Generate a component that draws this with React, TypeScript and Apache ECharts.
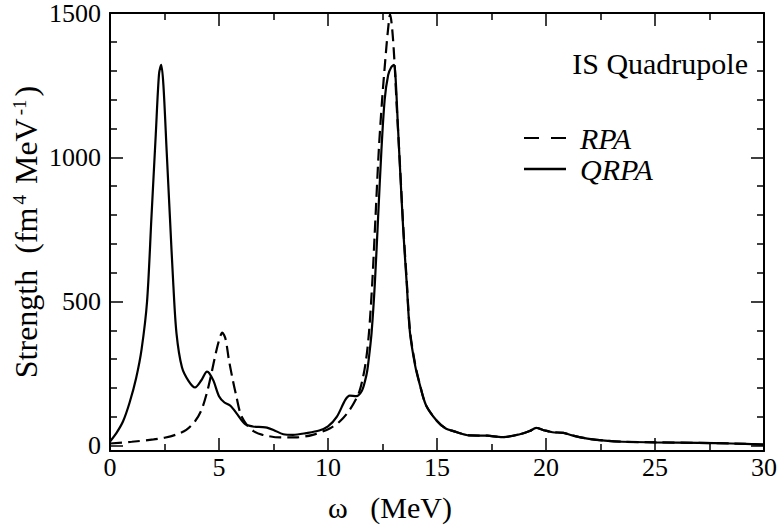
import React, { useEffect, useRef } from "react";
import * as echarts from "echarts";

// ---- data ----
const qrpaX = [0, 0.3, 0.6, 0.9, 1.2, 1.45, 1.7, 1.9, 2.1, 2.25, 2.35, 2.45, 2.6, 2.75, 2.9, 3.05, 3.3, 3.6, 3.9, 4.2, 4.45, 4.55, 4.75, 5.0, 5.25, 5.5, 5.65, 5.85, 6.2, 6.55, 7.0, 7.2, 7.5, 7.95, 8.4, 9.0, 9.6, 10.0, 10.4, 10.8, 11.0, 11.3, 11.55, 11.7, 11.8, 11.9, 12.0, 12.15, 12.3, 12.45, 12.6, 12.76, 12.9, 13.03, 13.1, 13.2, 13.3, 13.46, 13.61, 13.76, 14.0, 14.2];
const qrpaY = [15, 45, 85, 150, 235, 335, 500, 790, 1080, 1290, 1320, 1250, 1020, 790, 565, 390, 272, 225, 202, 228, 257, 252, 225, 172, 150, 140, 128, 108, 75, 67, 65, 63, 55, 40, 38, 44, 53, 67, 100, 160, 174, 172, 190, 225, 260, 320, 392, 564, 794, 1024, 1200, 1285, 1312, 1320, 1275, 1120, 967, 737, 564, 392, 277, 215];

const rpaX = [0, 1, 2, 2.5, 3, 3.5, 3.9, 4.2, 4.45, 4.65, 4.85, 5.0, 5.15, 5.3, 5.45, 5.6, 5.8, 6.0, 6.3, 6.6, 7.0, 7.8, 8.5, 9.3, 10.1, 10.55, 11.0, 11.4, 11.6, 11.75, 11.88, 12.03, 12.18, 12.33, 12.48, 12.62, 12.75, 12.85, 12.95, 13.05, 13.15, 13.3, 13.46, 13.61, 13.76, 14.0, 14.2];
const rpaY = [8, 14, 22, 28, 38, 55, 85, 125, 185, 250, 320, 365, 392, 370, 300, 240, 170, 108, 70, 50, 38, 29, 29, 38, 61, 85, 125, 180, 235, 300, 392, 564, 794, 1024, 1197, 1330, 1440, 1495, 1440, 1330, 1180, 975, 750, 575, 400, 282, 217];

// common high-energy tail (both curves coincide there)
const tailX = [14.5, 15.0, 15.4, 15.75, 16.5, 17.3, 18.0, 18.8, 19.25, 19.55, 19.95, 20.3, 20.8, 21.2, 21.9, 22.7, 23.5, 25, 27, 28.5, 30];
const tailY = [140, 86, 60, 51, 36, 35, 30, 40, 51, 62, 53, 47, 45, 36, 25, 18, 14, 12, 10, 8, 4];

const yMajorTicks = [0, 500, 1000, 1500];
const yMinorTicks = [100, 200, 300, 400, 600, 700, 800, 900, 1100, 1200, 1300, 1400];

const FONT = "Liberation Serif";

function pairs(xs: number[], ys: number[]) {
  return xs.map((x, i) => [x, ys[i]]);
}

export default function App() {
  const ref = useRef<HTMLDivElement>(null);
  useEffect(() => {
    if (!ref.current) return;
    const chart = echarts.init(ref.current, null, { renderer: "svg" });
    const black = "#000";
    const yMin = -18;
    const yMax = 1500;
    const xAxisBase = {
      type: "value",
      min: 0,
      max: 30,
      interval: 5,
      axisLine: { show: true, onZero: false, lineStyle: { color: black, width: 2 } },
      axisTick: { show: true, inside: true, length: 13, lineStyle: { color: black, width: 1.5 } },
      minorTick: { show: true, splitNumber: 2, length: 7, lineStyle: { color: black, width: 1.5 } },
      splitLine: { show: false },
      minorSplitLine: { show: false },
    };
    const yAxisBase = (position: string, major: boolean, labels: boolean) => ({
      type: "value",
      position,
      min: yMin,
      max: yMax,
      axisLine: { show: major, onZero: false, lineStyle: { color: black, width: 2 } },
      axisTick: {
        show: true,
        inside: true,
        length: major ? 13 : 7,
        customValues: major ? yMajorTicks : yMinorTicks,
        lineStyle: { color: black, width: 1.5 },
      },
      axisLabel: labels
        ? {
            show: true,
            customValues: yMajorTicks,
            color: black,
            fontSize: 26,
            fontFamily: FONT,
            margin: 9,
            formatter: (v: number) => String(v),
          }
        : { show: false },
      splitLine: { show: false },
    });

    chart.setOption({
      animation: false,
      backgroundColor: "#fff",
      textStyle: { fontFamily: FONT },
      grid: { left: 110, right: 17, top: 12, bottom: 75, containLabel: false },
      xAxis: [
        {
          ...xAxisBase,
          position: "bottom",
          axisLabel: {
            color: black,
            fontSize: 26,
            fontFamily: FONT,
            margin: 3,
            formatter: (v: number) => String(v),
          },
        },
        { ...xAxisBase, position: "top", axisLabel: { show: false } },
      ],
      yAxis: [
        yAxisBase("left", true, true),
        yAxisBase("left", false, false),
        yAxisBase("right", true, false),
        yAxisBase("right", false, false),
      ],
      legend: {
        left: 519,
        top: 118,
        orient: "vertical",
        itemWidth: 42,
        itemHeight: 2.4,
        itemGap: 1,
        data: [
          { name: "RPA", icon: "path://M0,0h15v2h-15z M27,0h15v2h-15z" },
          { name: "QRPA", icon: "rect" },
        ],
        itemStyle: { color: black, borderWidth: 0 },
        textStyle: {
          fontSize: 30,
          lineHeight: 30,
          fontStyle: "italic",
          fontFamily: FONT,
          color: black,
          padding: [0, 0, 0, 9],
        },
      },
      graphic: [
        {
          type: "text",
          x: 748,
          y: 63,
          style: {
            text: "IS Quadrupole",
            fontSize: 30,
            fontFamily: FONT,
            fill: black,
            align: "right",
            verticalAlign: "middle",
          },
        },
        {
          type: "text",
          x: 390,
          y: 507,
          style: {
            text: "ω   (MeV)",
            fontSize: 30,
            fontFamily: FONT,
            fill: black,
            align: "center",
            verticalAlign: "middle",
          },
        },
        {
          type: "text",
          x: 26,
          y: 232,
          rotation: Math.PI / 2,
          style: {
            text: "{a|Strength  (fm}{s|4}{a| MeV}{s|-1}{a|)}",
            align: "center",
            verticalAlign: "middle",
            fill: black,
            rich: {
              a: { fontSize: 32, fontFamily: FONT, lineHeight: 32, verticalAlign: "bottom", fill: black },
              s: { fontSize: 19, fontFamily: FONT, lineHeight: 19, verticalAlign: "top", padding: [0, 3, 19, 3], fill: black },
            },
          },
        },
      ],
      series: [
        {
          type: "line",
          name: "RPA",
          xAxisIndex: 0,
          yAxisIndex: 0,
          data: pairs(rpaX.concat(tailX), rpaY.concat(tailY)),
          symbol: "none",
          showSymbol: false,
          smooth: 0.3,
          lineStyle: { color: black, width: 2.2, type: [12, 6] },
          itemStyle: { color: black },
          z: 2,
        },
        {
          type: "line",
          name: "QRPA",
          xAxisIndex: 0,
          yAxisIndex: 0,
          data: pairs(qrpaX.concat(tailX), qrpaY.concat(tailY)),
          symbol: "none",
          showSymbol: false,
          smooth: 0.3,
          lineStyle: { color: black, width: 2.2, type: "solid" },
          itemStyle: { color: black },
          z: 3,
        },
      ],
    });
    return () => chart.dispose();
  }, []);
  return (
    <div
      ref={ref}
      style={{ position: "fixed", left: 0, top: 0, width: 781, height: 526, background: "#fff" }}
    />
  );
}
